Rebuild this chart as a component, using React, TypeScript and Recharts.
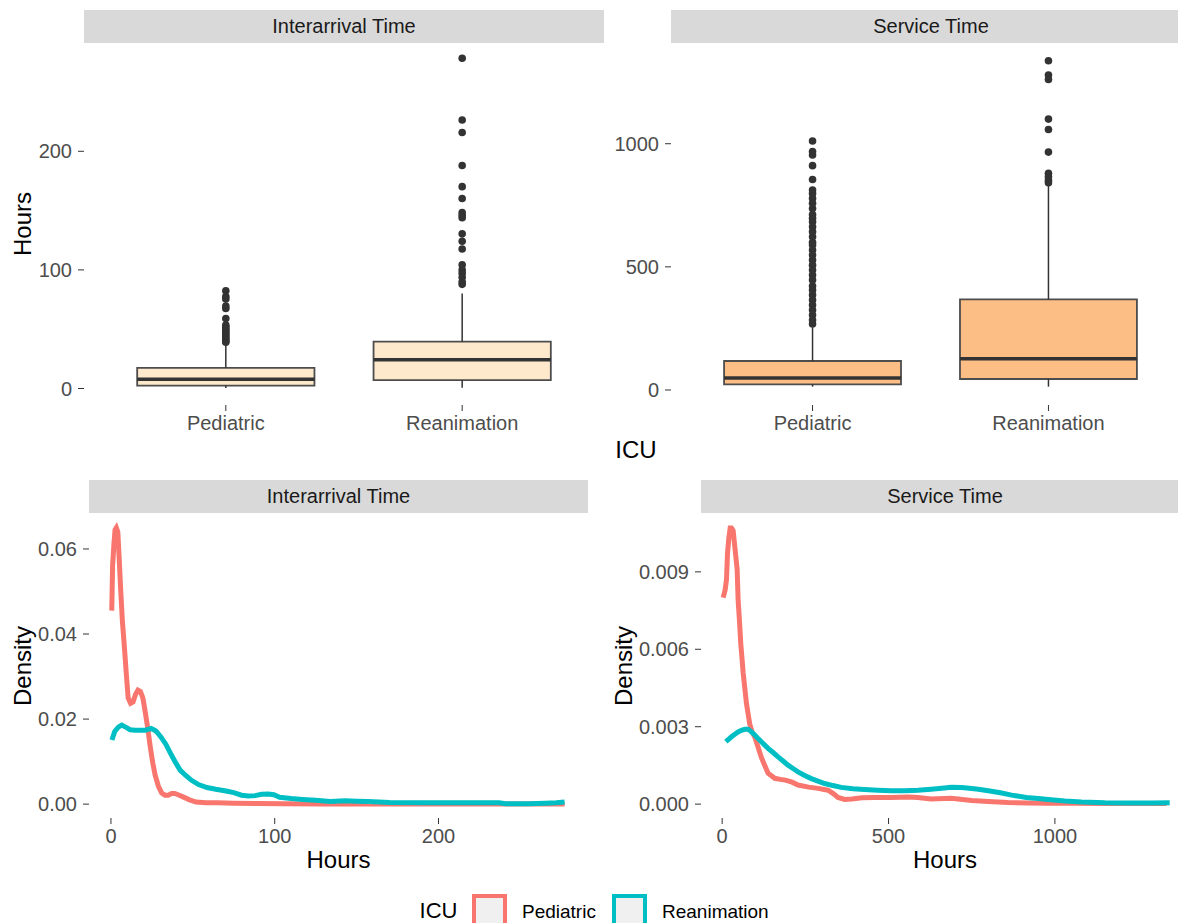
import React from 'react'
import {
  ScatterChart,
  Scatter,
  LineChart,
  Line,
  XAxis,
  YAxis,
  ReferenceArea,
  ReferenceLine,
} from 'recharts'

// ICU groups
const icuGroups = ['Pediatric', 'Reanimation']

// boxplot stats: [lower whisker, q1, median, q3, upper whisker]
const interPediatricBox = [0.5, 2.5, 7.9, 17.4, 36.5]
const interReanimationBox = [0.6, 7.1, 24.3, 39.6, 80]
const servicePediatricBox = [13.5, 23, 48.7, 117.7, 254]
const serviceReanimationBox = [13.5, 44.6, 127, 368, 832]

// outliers
const interPediatricOut = [82.4, 77.5, 75.5, 69.5, 67.5, 59, 53.5, 52, 50.5, 49, 47.5, 46, 44.5, 43, 41.5, 40, 39]
const interReanimationOut = [278.4, 226.4, 215.9, 188, 170.2, 160.2, 148.3, 146, 144, 130.4, 124.1, 117.6, 104.3, 100, 97.2, 93.8, 90, 87.8]
const servicePediatricOut = [
  1011, 968, 954, 911, 855, 812, 798, 778, 758, 737, 712, 697, 683, 663, 643, 622,
  600, 589, 568, 548, 528, 507, 487, 467, 447, 422, 406, 386, 365, 345, 325, 304, 284, 268,
]
const serviceReanimationOut = [1337, 1279, 1261, 1100, 1058, 966, 880, 866, 852, 842]

// density curves: hours / density
const interPedHours = [0.5, 1, 1.8, 2.5, 3.3, 4.2, 5, 6, 7, 8.2, 9.5, 10.5, 12, 13.5, 15, 16.5, 18, 19.5, 21, 22.5, 24, 25.5, 27, 29, 31, 33, 35, 37, 39, 41, 44, 48, 52, 58, 65, 75, 90, 105, 130, 160, 200, 240, 277]
const interPedDensity = [0.0455, 0.056, 0.061, 0.0645, 0.065, 0.064, 0.058, 0.05, 0.043, 0.037, 0.03, 0.025, 0.0237, 0.024, 0.0258, 0.0268, 0.0265, 0.025, 0.0215, 0.0178, 0.0135, 0.0098, 0.0068, 0.0042, 0.0026, 0.0021, 0.0021, 0.0025, 0.0025, 0.0022, 0.0017, 0.001, 0.0005, 0.0003, 0.0003, 0.0002, 0.00015, 0.0001, 0.00005, 0.00003, 0.00002, 0.00001, 0.00001]
const interReaHours = [0.6, 2.3, 4.5, 6.6, 9, 11.7, 15, 18, 21, 24.6, 27.5, 30.5, 33.5, 36.3, 39, 42.2, 45.5, 49.2, 53.5, 58.6, 64, 70.3, 75, 79.7, 84, 88, 92, 96, 99.5, 103, 110, 117, 125, 134, 143, 150, 157, 170, 190, 215, 237, 241, 255, 265, 272, 277]
const interReaDensity = [0.0151, 0.0171, 0.0181, 0.0186, 0.0181, 0.0175, 0.0174, 0.0174, 0.0174, 0.0178, 0.0172, 0.0158, 0.0141, 0.012, 0.0101, 0.008, 0.0068, 0.0056, 0.0046, 0.0039, 0.0035, 0.0031, 0.0027, 0.0021, 0.0019, 0.002, 0.0023, 0.0024, 0.0022, 0.0016, 0.0013, 0.0011, 0.0009, 0.0006, 0.0008, 0.0007, 0.0006, 0.0004, 0.0003, 0.0003, 0.0003, 0.0001, 0.0001, 0.0002, 0.0003, 0.0005]
const servPedHours = [3, 9, 13, 16, 20, 24, 28, 33, 37, 41, 45, 48, 52, 56, 60, 63, 68, 73, 78, 83, 90, 98, 108, 118, 128, 138, 148, 158, 175, 190, 210, 228, 260, 288, 318, 335, 348, 368, 390, 420, 460, 508, 560, 588, 628, 688, 750, 800, 858, 920, 980, 1050, 1150, 1250, 1336]
const servPedDensity = [0.008, 0.0083, 0.0087, 0.0097, 0.0103, 0.0107, 0.0107, 0.0106, 0.0101, 0.0096, 0.0091, 0.0079, 0.0071, 0.0062, 0.0056, 0.0051, 0.0045, 0.0039, 0.0035, 0.0031, 0.0028, 0.0026, 0.0022, 0.0018, 0.0015, 0.0012, 0.0011, 0.001, 0.00096, 0.00093, 0.00085, 0.00074, 0.00066, 0.00061, 0.00054, 0.0004, 0.00026, 0.00018, 0.0002, 0.00025, 0.00026, 0.00026, 0.00028, 0.00026, 0.0002, 0.00023, 0.00014, 0.0001, 0.00006, 0.00004, 0.00003, 0.00003, 0.00002, 0.00002, 0.00002]
const servReaHours = [11, 20, 28, 38, 48, 58, 68, 78, 88, 98, 108, 123, 138, 153, 168, 183, 198, 213, 228, 248, 268, 288, 308, 333, 358, 393, 428, 468, 508, 548, 588, 628, 660, 688, 720, 750, 770, 800, 836, 870, 914, 950, 980, 1030, 1080, 1150, 1220, 1290, 1345]
const servReaDensity = [0.00242, 0.00252, 0.00261, 0.00271, 0.0028, 0.00286, 0.0029, 0.0029, 0.0028, 0.00268, 0.00254, 0.00235, 0.00216, 0.002, 0.00183, 0.00167, 0.00151, 0.00138, 0.00125, 0.00111, 0.00099, 0.00089, 0.0008, 0.00072, 0.00065, 0.0006, 0.00057, 0.00054, 0.00052, 0.00052, 0.00054, 0.00058, 0.00062, 0.00065, 0.00064, 0.00061, 0.00058, 0.00052, 0.00044, 0.00035, 0.00026, 0.00022, 0.00018, 0.00012, 0.00008, 0.00005, 0.00004, 0.00004, 0.00005]

// tick labels
const interHoursTicks = [0, 100, 200]
const serviceHoursTicks = [0, 500, 1000]
const interDensityTicks = [0, 0.02, 0.04, 0.06]
const serviceDensityTicks = [0, 0.003, 0.006, 0.009]

const FONT = '"Liberation Sans", Arial, sans-serif'
const RED = '#F8766D'
const TEAL = '#00BFC4'
const tickStyle = { fill: '#4D4D4D', fontSize: 20, fontFamily: FONT }
const noMargin = { top: 0, right: 0, bottom: 0, left: 0 }

const zip = (xs: number[], ys: number[]) => xs.map((h, i) => ({ h, d: ys[i] }))

const Text = ({ x, y, size = 20, color = '#000', rotate = 0, anchor = 'center', children }: any) => (
  <div
    style={{
      position: 'absolute',
      left: x,
      top: y,
      fontFamily: FONT,
      fontSize: size,
      lineHeight: 1,
      color,
      whiteSpace: 'nowrap',
      transform: `translate(${anchor === 'start' ? '0' : '-50%'}, -50%) rotate(${rotate}deg)`,
    }}
  >
    {children}
  </div>
)

const Strip = ({ x, y, w, label }: any) => (
  <div
    style={{
      position: 'absolute',
      left: x,
      top: y,
      width: w,
      height: 33,
      background: '#D9D9D9',
      color: '#1A1A1A',
      fontFamily: FONT,
      fontSize: 20,
      display: 'flex',
      alignItems: 'center',
      justifyContent: 'center',
    }}
  >
    {label}
  </div>
)

const BoxPanel = ({ left, yWidth, plotWidth, domain, ticks, fill, stats, outliers }: any) => {
  const points = outliers.flatMap((vals: number[], i: number) => vals.map((v) => ({ x: i + 1, y: v })))
  return (
    <div style={{ position: 'absolute', left, top: 43 }}>
      <ScatterChart width={yWidth + plotWidth} height={362 + 50} margin={noMargin}>
        <XAxis
          type="number"
          dataKey="x"
          domain={[0.4, 2.6]}
          ticks={[1, 2]}
          interval={0}
          allowDataOverflow
          tickFormatter={(v: number) => icuGroups[v - 1]}
          height={50}
          axisLine={false}
          tickSize={6}
          tickMargin={5}
          tick={tickStyle}
          tickLine={{ stroke: '#333333' }}
        />
        <YAxis
          type="number"
          dataKey="y"
          domain={domain}
          ticks={ticks}
          interval={0}
          allowDataOverflow
          width={yWidth}
          axisLine={false}
          tickSize={6}
          tickMargin={6}
          tick={tickStyle}
          tickLine={{ stroke: '#333333' }}
        />
        {stats.map((s: number[], i: number) => (
          <ReferenceLine
            key={`lo${i}`}
            segment={[{ x: i + 1, y: s[0] }, { x: i + 1, y: s[1] }]}
            stroke="#333333"
            strokeWidth={1.5}
          />
        ))}
        {stats.map((s: number[], i: number) => (
          <ReferenceLine
            key={`hi${i}`}
            segment={[{ x: i + 1, y: s[3] }, { x: i + 1, y: s[4] }]}
            stroke="#333333"
            strokeWidth={1.5}
          />
        ))}
        {stats.map((s: number[], i: number) => (
          <ReferenceArea
            key={`box${i}`}
            x1={i + 1 - 0.375}
            x2={i + 1 + 0.375}
            y1={s[1]}
            y2={s[3]}
            fill={fill}
            fillOpacity={1}
            stroke="#4D4D4D"
            strokeWidth={1.8}
          />
        ))}
        {stats.map((s: number[], i: number) => (
          <ReferenceLine
            key={`med${i}`}
            segment={[{ x: i + 1 - 0.375, y: s[2] }, { x: i + 1 + 0.375, y: s[2] }]}
            stroke="#333333"
            strokeWidth={3.5}
          />
        ))}
        <Scatter
          data={points}
          isAnimationActive={false}
          shape={(p: any) => <circle cx={p.cx} cy={p.cy} r={3.8} fill="#333333" />}
        />
      </ScatterChart>
    </div>
  )
}

const DensityPanel = ({ left, yWidth, plotWidth, xDomain, xTicks, yDomain, yTicks, digits, red, teal }: any) => (
  <div style={{ position: 'absolute', left, top: 513 }}>
    <LineChart width={yWidth + plotWidth} height={305 + 50} margin={noMargin}>
      <XAxis
        type="number"
        dataKey="h"
        domain={xDomain}
        ticks={xTicks}
        interval={0}
        allowDataOverflow
        height={50}
        axisLine={false}
        tickSize={6}
        tickMargin={5}
        tick={tickStyle}
        tickLine={{ stroke: '#333333' }}
      />
      <YAxis
        type="number"
        dataKey="d"
        domain={yDomain}
        ticks={yTicks}
        interval={0}
        allowDataOverflow
        width={yWidth}
        axisLine={false}
        tickSize={6}
        tickMargin={6}
        tick={tickStyle}
        tickLine={{ stroke: '#333333' }}
        tickFormatter={(v: number) => v.toFixed(digits)}
      />
      <Line data={red} dataKey="d" stroke={RED} strokeWidth={5} dot={false} isAnimationActive={false} />
      <Line data={teal} dataKey="d" stroke={TEAL} strokeWidth={5} dot={false} isAnimationActive={false} />
    </LineChart>
  </div>
)

const LegendKey = ({ x, color }: any) => (
  <div
    style={{
      position: 'absolute',
      left: x,
      top: 894,
      width: 27,
      height: 27,
      border: `4.5px solid ${color}`,
      background: '#F0F0F0',
    }}
  />
)

export default function App() {
  return (
    <div
      style={{
        position: 'absolute',
        left: 0,
        top: 0,
        width: 1178,
        height: 923,
        overflow: 'hidden',
        background: '#FFFFFF',
      }}
    >
      <Strip x={84} y={10} w={520} label="Interarrival Time" />
      <Strip x={671} y={10} w={520} label="Service Time" />
      <BoxPanel
        left={0}
        yWidth={84}
        plotWidth={520}
        domain={[-13.9, 291.3]}
        ticks={interHoursTicks}
        fill="#FEE9CD"
        stats={[interPediatricBox, interReanimationBox]}
        outliers={[interPediatricOut, interReanimationOut]}
      />
      <BoxPanel
        left={587}
        yWidth={84}
        plotWidth={519}
        domain={[-61, 1409]}
        ticks={serviceHoursTicks}
        fill="#FDBE85"
        stats={[servicePediatricBox, serviceReanimationBox]}
        outliers={[servicePediatricOut, serviceReanimationOut]}
      />
      <Text x={22.5} y={224} size={24} rotate={-90}>Hours</Text>
      <Text x={636} y={450} size={24}>ICU</Text>

      <Strip x={89} y={480} w={499} label="Interarrival Time" />
      <Strip x={701} y={480} w={488} label="Service Time" />
      <DensityPanel
        left={0}
        yWidth={89}
        plotWidth={499}
        xDomain={[-13.4, 291.3]}
        xTicks={interHoursTicks}
        yDomain={[-0.00326, 0.06846]}
        yTicks={interDensityTicks}
        digits={2}
        red={zip(interPedHours, interPedDensity)}
        teal={zip(interReaHours, interReaDensity)}
      />
      <DensityPanel
        left={601}
        yWidth={100}
        plotWidth={488}
        xDomain={[-63.6, 1403]}
        xTicks={serviceHoursTicks}
        yDomain={[-0.000537, 0.01128]}
        yTicks={serviceDensityTicks}
        digits={3}
        red={zip(servPedHours, servPedDensity)}
        teal={zip(servReaHours, servReaDensity)}
      />
      <Text x={22.5} y={665.5} size={24} rotate={-90}>Density</Text>
      <Text x={624} y={665.5} size={24} rotate={-90}>Density</Text>
      <Text x={338.5} y={860} size={24}>Hours</Text>
      <Text x={945} y={860} size={24}>Hours</Text>

      <Text x={438.5} y={910.5} size={22}>ICU</Text>
      <LegendKey x={472} color={RED} />
      <Text x={522} y={911} size={19} anchor="start">Pediatric</Text>
      <LegendKey x={612} color={TEAL} />
      <Text x={662} y={911} size={19} anchor="start">Reanimation</Text>
    </div>
  )
}
